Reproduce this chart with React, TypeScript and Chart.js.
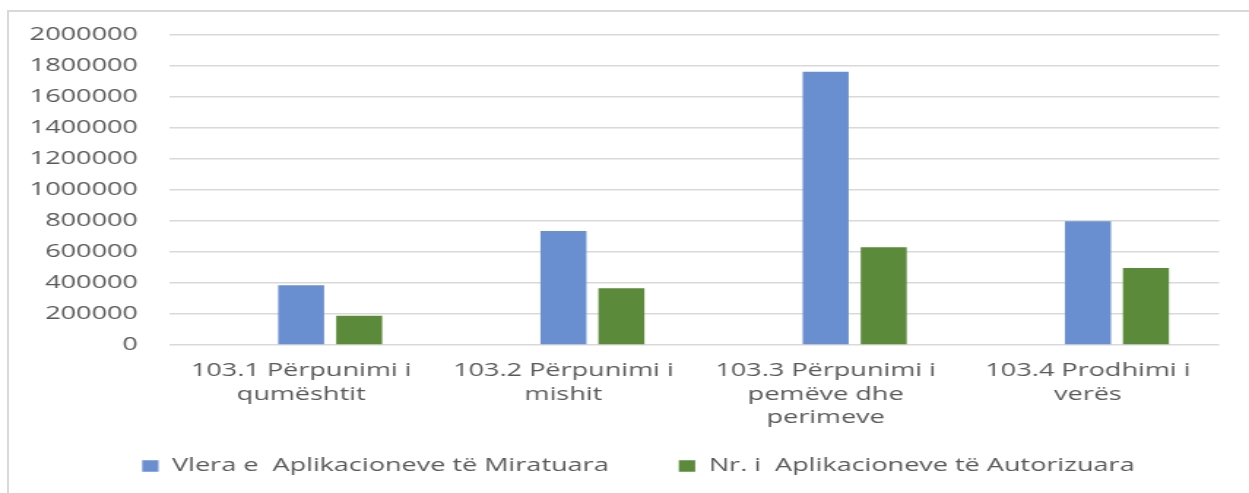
import React, { useEffect, useRef } from "react";
import { Chart, registerables } from "chart.js";

Chart.register(...registerables);

// ---- data ----
const categories: string[][] = [
  ["103.1 Përpunimi i", "qumështit"],
  ["103.2 Përpunimi i", "mishit"],
  ["103.3 Përpunimi i", "pemëve dhe", "perimeve"],
  ["103.4 Prodhimi i", "verës"],
];
const seriesNames = [
  "Vlera e  Aplikacioneve të Miratuara",
  "Nr. i  Aplikacioneve të Autorizuara",
];
const approvedValues = [385000, 735000, 1763000, 798000];
const authorizedValues = [189000, 366000, 630000, 497000];
const spacerValues: (number | null)[] = [null, null, null, null];
const yMin = 0;
const yMax = 2000000;
const yStep = 200000;

// ---- page geometry ----
const PAGE_W = 1249;
const PAGE_H = 493;
const INNER_W = 855; // canvas drawn narrower, then stretched horizontally like the reference
const FONT_SIZE = 18.5;
const LEGEND_PAD = 48;
const LEGEND_CENTER_X = 437;
const LEGEND_ITEM_Y = 466;

const legendPlacement = {
  id: "legendPlacement",
  afterLayout(chart: any) {
    const lg = chart.legend;
    if (!lg) return;
    const itemH = Math.max(FONT_SIZE, 11.6);
    const dx = LEGEND_CENTER_X - (lg.left + lg.right) / 2;
    lg.left += dx;
    lg.right += dx;
    lg.top = LEGEND_ITEM_Y - LEGEND_PAD - itemH / 2;
    lg.bottom = PAGE_H;
    lg.height = lg.bottom - lg.top;
  },
};

export default function App() {
  const ref = useRef<HTMLCanvasElement>(null);

  useEffect(() => {
    const canvas = ref.current;
    if (!canvas) return;
    const family = "'Open Sans', sans-serif";
    const textColor = "#595959";
    const chart = new Chart(canvas, {
      type: "bar",
      data: {
        labels: categories,
        datasets: [
          { label: "", data: spacerValues, backgroundColor: "rgba(0,0,0,0)" },
          { label: seriesNames[0], data: approvedValues, backgroundColor: "#6a8fd0" },
          { label: seriesNames[1], data: authorizedValues, backgroundColor: "#5b8a3a" },
        ],
      },
      plugins: [legendPlacement],
      options: {
        responsive: false,
        animation: false,
        devicePixelRatio: 1,
        datasets: {
          bar: { categoryPercentage: 0.6636, barPercentage: 0.793 },
        },
        layout: { padding: { left: 0, right: 20.5, top: 35, bottom: 0 } },
        plugins: {
          tooltip: { enabled: false },
          legend: {
            position: "bottom",
            maxHeight: 40,
            labels: {
              filter: (item: any) => item.datasetIndex !== 0,
              boxWidth: 11.2,
              boxHeight: 11.6,
              padding: LEGEND_PAD,
              color: textColor,
              font: { family, size: FONT_SIZE },
            },
          },
        },
        scales: {
          x: {
            grid: { display: false, drawTicks: false },
            border: { display: false },
            ticks: {
              color: textColor,
              font: { family, size: FONT_SIZE, lineHeight: 1.26 },
              padding: 14.5,
              maxRotation: 0,
              autoSkip: false,
            },
            afterFit: (s: any) => {
              s.height = 108;
            },
          },
          y: {
            min: yMin,
            max: yMax,
            grid: { color: "#d9d9d9", lineWidth: 1.5, drawTicks: false },
            border: { display: false },
            ticks: {
              stepSize: yStep,
              padding: 22,
              color: textColor,
              font: { family, size: FONT_SIZE },
              callback: (v: any) => String(v),
            },
            afterFit: (s: any) => {
              s.width = 116.4;
            },
          },
        },
      },
    } as any);
    return () => chart.destroy();
  }, []);

  return (
    <div
      style={{
        position: "fixed",
        left: 0,
        top: 0,
        width: PAGE_W,
        height: PAGE_H,
        overflow: "hidden",
        background: "#ffffff",
      }}
    >
      <div
        style={{
          position: "absolute",
          left: 7,
          top: 10,
          width: PAGE_W + 20,
          height: PAGE_H + 20,
          borderLeft: "2px solid #d9d9d9",
          borderTop: "2px solid #d9d9d9",
          boxSizing: "border-box",
        }}
      />
      <canvas
        ref={ref}
        width={INNER_W}
        height={PAGE_H}
        style={{
          position: "absolute",
          left: 0,
          top: 0,
          width: PAGE_W + "px",
          height: PAGE_H + "px",
        }}
      />
    </div>
  );
}
